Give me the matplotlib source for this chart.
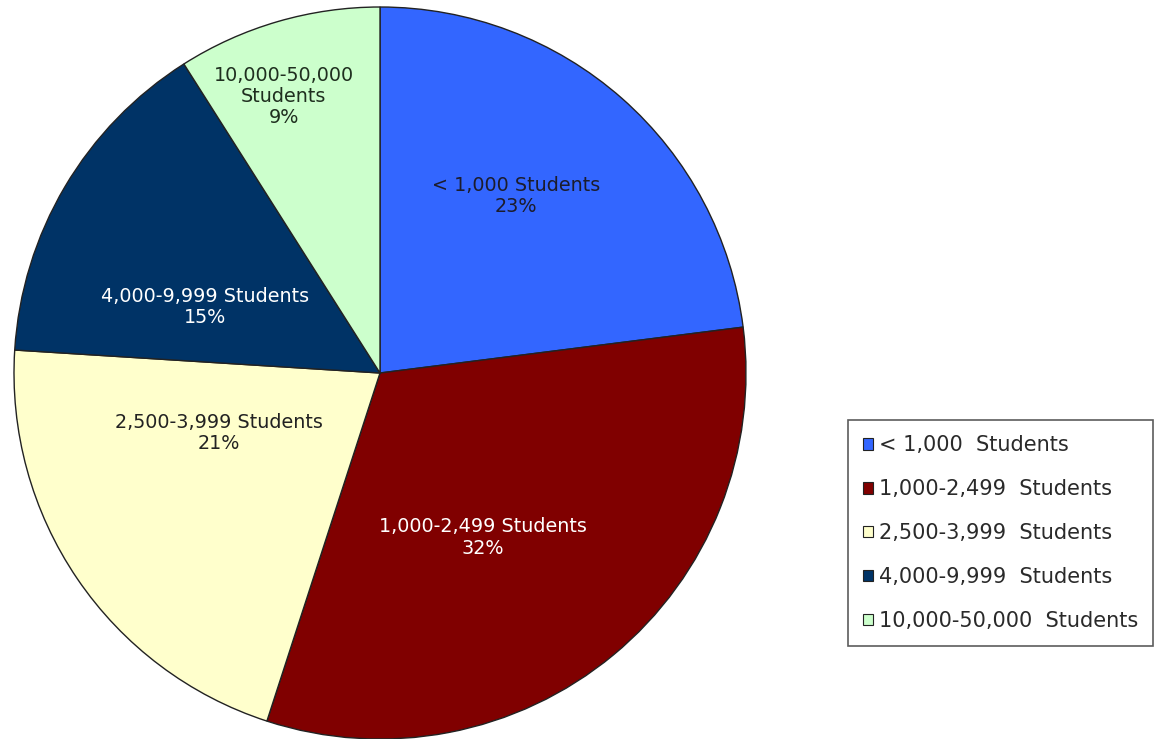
import matplotlib
matplotlib.use("Agg")
import matplotlib.pyplot as plt
import numpy as np

categories = ["< 1,000  Students", "1,000-2,499  Students", "2,500-3,999  Students",
              "4,000-9,999  Students", "10,000-50,000  Students"]
slice_labels = ["< 1,000 Students", "1,000-2,499 Students", "2,500-3,999 Students",
                "4,000-9,999 Students", "10,000-50,000\nStudents"]
values = [23, 32, 21, 15, 9]
colors = ["#3366FF", "#800000", "#FFFFCC", "#003366", "#CCFFCC"]
text_colors = ["#1c1c2c", "white", "#222222", "white", "#1f2f1f"]

plt.rcParams['font.family'] = ['DejaVu Sans']

W, H = 1156, 739
fig = plt.figure(figsize=(W / 100, H / 100), dpi=100)
cx, cy, R = 380, 373, 366
ax = fig.add_axes([(cx - R) / W, (H - cy - R) / H, 2 * R / W, 2 * R / H])
wedges, _ = ax.pie(values, colors=colors, startangle=90, counterclock=False,
                   radius=1.0, wedgeprops=dict(edgecolor="#222222", linewidth=1.0))
ax.set_xlim(-1, 1)
ax.set_ylim(-1, 1)
ax.set_aspect("equal")
ax.axis("off")

# label placement (angle offset in degrees, radius fraction)
place = [(3.8, 0.61), (-7.6, 0.53), (-13.9, 0.47), (10.0, 0.51), (3.0, 0.80)]
for w, lab, v, tc, (da, r) in zip(wedges, slice_labels, values, text_colors, place):
    mid = np.deg2rad((w.theta1 + w.theta2) / 2 + da)
    ax.text(r * np.cos(mid), r * np.sin(mid), f"{lab}\n{v}%", ha="center", va="center",
            color=tc, fontsize=13.8, linespacing=1.15)

handles = [plt.Rectangle((0, 0), 1, 1, facecolor=c, edgecolor="#222222", linewidth=0.8)
           for c in colors]
leg = fig.legend(handles, categories, loc="upper left",
                 bbox_to_anchor=(848 / W, 1 - 420 / H), fontsize=15.0,
                 frameon=True, fancybox=False, handlelength=0.5, handleheight=0.5,
                 handletextpad=0.25, labelspacing=1.15, borderpad=0.72, borderaxespad=0)
leg.get_frame().set_edgecolor("#333333")
leg.get_frame().set_linewidth(1.2)
for t in leg.get_texts():
    t.set_color("#2a2a2a")

fig.savefig("out.png", dpi=100)
